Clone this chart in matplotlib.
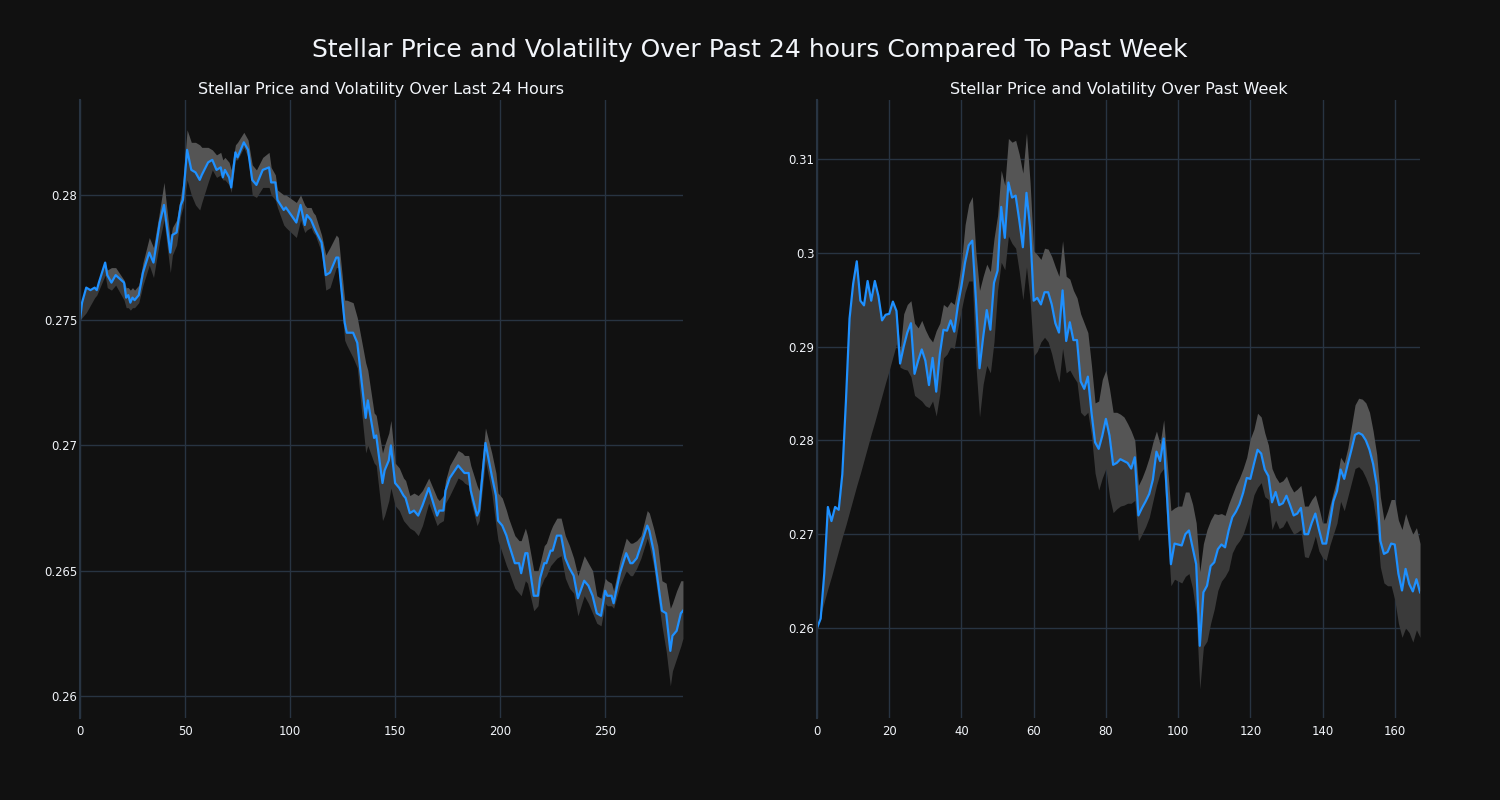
import matplotlib.pyplot as plt

# Last 24 hours (5-minute steps)
dia_x = [0, 1, 3, 5, 7, 8, 9, 12, 13, 15, 17, 21, 22, 23, 24, 25, 26, 28, 30, 33,
         35, 38, 40, 43, 44, 46, 48, 49, 51, 53, 55, 57, 58, 61, 63, 65, 67, 68, 69, 71,
         72, 74, 75, 78, 80, 82, 84, 87, 90, 91, 93, 94, 97, 98, 103, 105, 107, 108, 110, 111,
         112, 115, 117, 119, 122, 123, 126, 127, 130, 132, 136, 137, 140, 141, 144, 145, 147, 148, 150, 152,
         154, 155, 157, 159, 161, 163, 166, 170, 171, 173, 174, 176, 180, 182, 183, 185, 186, 189, 190, 193,
         196, 198, 199, 201, 203, 204, 207, 209, 210, 212, 213, 216, 218, 219, 221, 222, 224, 225, 227, 229,
         231, 233, 235, 237, 240, 242, 244, 246, 248, 250, 251, 253, 254, 257, 260, 262, 263, 265, 267, 270,
         271, 273, 275, 277, 279, 281, 282, 284, 286, 287]
dia_preco = [0.2750, 0.2757, 0.2763, 0.2762, 0.2763, 0.2762, 0.2765, 0.2773, 0.2768, 0.2765, 0.2768, 0.2765, 0.2759, 0.2760, 0.2757, 0.2759, 0.2758, 0.2760, 0.2769, 0.2777,
             0.2773, 0.2789, 0.2796, 0.2777, 0.2784, 0.2785, 0.2796, 0.2798, 0.2818, 0.2810, 0.2809, 0.2806, 0.2808, 0.2813, 0.2814, 0.2810, 0.2811, 0.2807, 0.2810, 0.2807,
             0.2803, 0.2817, 0.2815, 0.2821, 0.2818, 0.2806, 0.2804, 0.2810, 0.2811, 0.2805, 0.2805, 0.2798, 0.2794, 0.2795, 0.2789, 0.2796, 0.2788, 0.2792, 0.2790, 0.2788,
             0.2786, 0.2781, 0.2768, 0.2769, 0.2775, 0.2775, 0.2749, 0.2745, 0.2745, 0.2741, 0.2711, 0.2718, 0.2703, 0.2704, 0.2685, 0.2690, 0.2694, 0.2700, 0.2685, 0.2683,
             0.2680, 0.2679, 0.2673, 0.2674, 0.2672, 0.2676, 0.2683, 0.2672, 0.2674, 0.2674, 0.2682, 0.2687, 0.2692, 0.2690, 0.2689, 0.2689, 0.2682, 0.2672, 0.2674, 0.2701,
             0.2688, 0.2680, 0.2670, 0.2668, 0.2664, 0.2661, 0.2653, 0.2653, 0.2649, 0.2657, 0.2657, 0.2640, 0.2640, 0.2647, 0.2653, 0.2653, 0.2658, 0.2658, 0.2664, 0.2664,
             0.2655, 0.2651, 0.2648, 0.2639, 0.2646, 0.2644, 0.2640, 0.2633, 0.2632, 0.2642, 0.2640, 0.2640, 0.2637, 0.2649, 0.2657, 0.2653, 0.2653, 0.2655, 0.2660, 0.2668,
             0.2666, 0.2658, 0.2646, 0.2634, 0.2633, 0.2618, 0.2624, 0.2626, 0.2633, 0.2634]
dia_sup = [0.2750, 0.2757, 0.2763, 0.2762, 0.2763, 0.2763, 0.2765, 0.2773, 0.2770, 0.2771, 0.2771, 0.2766, 0.2763, 0.2763, 0.2762, 0.2763, 0.2762, 0.2764, 0.2773, 0.2783,
           0.2779, 0.2794, 0.2805, 0.2782, 0.2787, 0.2790, 0.2800, 0.2805, 0.2826, 0.2821, 0.2821, 0.2820, 0.2819, 0.2819, 0.2818, 0.2816, 0.2817, 0.2814, 0.2815, 0.2813,
           0.2810, 0.2820, 0.2821, 0.2825, 0.2822, 0.2812, 0.2810, 0.2815, 0.2817, 0.2811, 0.2808, 0.2802, 0.2800, 0.2800, 0.2797, 0.2800, 0.2796, 0.2795, 0.2795, 0.2793,
           0.2792, 0.2784, 0.2776, 0.2779, 0.2784, 0.2783, 0.2758, 0.2758, 0.2757, 0.2751, 0.2733, 0.2730, 0.2713, 0.2712, 0.2697, 0.2700, 0.2705, 0.2710, 0.2693, 0.2691,
           0.2687, 0.2686, 0.2680, 0.2681, 0.2680, 0.2682, 0.2687, 0.2679, 0.2678, 0.2680, 0.2686, 0.2692, 0.2698, 0.2697, 0.2696, 0.2696, 0.2692, 0.2684, 0.2682, 0.2707,
           0.2697, 0.2689, 0.2681, 0.2679, 0.2674, 0.2671, 0.2664, 0.2662, 0.2662, 0.2667, 0.2664, 0.2650, 0.2650, 0.2653, 0.2660, 0.2661, 0.2666, 0.2668, 0.2671, 0.2671,
           0.2664, 0.2660, 0.2655, 0.2648, 0.2656, 0.2653, 0.2650, 0.2640, 0.2639, 0.2647, 0.2646, 0.2645, 0.2642, 0.2654, 0.2663, 0.2661, 0.2661, 0.2662, 0.2664, 0.2674,
           0.2673, 0.2667, 0.2660, 0.2646, 0.2645, 0.2635, 0.2637, 0.2642, 0.2646, 0.2646]
dia_inf = [0.2750, 0.2751, 0.2753, 0.2756, 0.2759, 0.2760, 0.2762, 0.2768, 0.2763, 0.2762, 0.2764, 0.2758, 0.2755, 0.2755, 0.2754, 0.2755, 0.2755, 0.2757, 0.2764, 0.2772,
           0.2767, 0.2782, 0.2790, 0.2769, 0.2776, 0.2780, 0.2792, 0.2795, 0.2806, 0.2800, 0.2796, 0.2794, 0.2797, 0.2805, 0.2810, 0.2807, 0.2808, 0.2806, 0.2806, 0.2804,
           0.2801, 0.2814, 0.2814, 0.2819, 0.2815, 0.2800, 0.2799, 0.2803, 0.2803, 0.2800, 0.2798, 0.2795, 0.2788, 0.2787, 0.2783, 0.2790, 0.2785, 0.2786, 0.2787, 0.2785,
           0.2784, 0.2777, 0.2762, 0.2763, 0.2771, 0.2771, 0.2742, 0.2740, 0.2735, 0.2731, 0.2697, 0.2700, 0.2693, 0.2692, 0.2670, 0.2672, 0.2678, 0.2683, 0.2676, 0.2674,
           0.2670, 0.2669, 0.2667, 0.2666, 0.2664, 0.2668, 0.2677, 0.2668, 0.2669, 0.2670, 0.2677, 0.2680, 0.2687, 0.2686, 0.2685, 0.2684, 0.2678, 0.2668, 0.2670, 0.2694,
           0.2681, 0.2668, 0.2662, 0.2657, 0.2652, 0.2650, 0.2643, 0.2641, 0.2640, 0.2646, 0.2645, 0.2634, 0.2636, 0.2643, 0.2647, 0.2648, 0.2652, 0.2653, 0.2655, 0.2656,
           0.2647, 0.2643, 0.2641, 0.2632, 0.2640, 0.2637, 0.2633, 0.2629, 0.2628, 0.2637, 0.2636, 0.2636, 0.2635, 0.2644, 0.2650, 0.2648, 0.2648, 0.2651, 0.2655, 0.2663,
           0.2660, 0.2652, 0.2640, 0.2628, 0.2618, 0.2604, 0.2610, 0.2615, 0.2620, 0.2623]

# Past week (hourly steps, 0..167)
semana_preco = [0.2600, 0.2610, 0.2658, 0.2729, 0.2714, 0.2729, 0.2726, 0.2764, 0.2842, 0.2930,
                0.2967, 0.2991, 0.2949, 0.2944, 0.2970, 0.2949, 0.2970, 0.2954, 0.2928, 0.2934,
                0.2935, 0.2948, 0.2938, 0.2882, 0.2900, 0.2915, 0.2925, 0.2871, 0.2885, 0.2897,
                0.2885, 0.2859, 0.2888, 0.2852, 0.2892, 0.2918, 0.2917, 0.2928, 0.2916, 0.2944,
                0.2965, 0.2990, 0.3008, 0.3013, 0.2950, 0.2877, 0.2910, 0.2939, 0.2918, 0.2968,
                0.2981, 0.3049, 0.3016, 0.3075, 0.3059, 0.3061, 0.3035, 0.3006, 0.3064, 0.3027,
                0.2949, 0.2952, 0.2945, 0.2958, 0.2958, 0.2945, 0.2925, 0.2915, 0.2960, 0.2906,
                0.2926, 0.2907, 0.2907, 0.2863, 0.2855, 0.2868, 0.2830, 0.2798, 0.2791, 0.2805,
                0.2823, 0.2805, 0.2774, 0.2776, 0.2780, 0.2778, 0.2776, 0.2770, 0.2782, 0.2720,
                0.2728, 0.2735, 0.2743, 0.2758, 0.2788, 0.2778, 0.2802, 0.2735, 0.2668, 0.2690,
                0.2689, 0.2688, 0.2700, 0.2704, 0.2686, 0.2668, 0.2581, 0.2638, 0.2645, 0.2666,
                0.2670, 0.2684, 0.2689, 0.2686, 0.2704, 0.2718, 0.2724, 0.2732, 0.2744, 0.2760,
                0.2759, 0.2775, 0.2790, 0.2786, 0.2769, 0.2762, 0.2734, 0.2745, 0.2731, 0.2733,
                0.2741, 0.2731, 0.2720, 0.2722, 0.2728, 0.2700, 0.2700, 0.2712, 0.2722, 0.2705,
                0.2690, 0.2690, 0.2712, 0.2735, 0.2746, 0.2769, 0.2759, 0.2775, 0.2790, 0.2806,
                0.2808, 0.2806, 0.2800, 0.2790, 0.2775, 0.2752, 0.2693, 0.2679, 0.2681, 0.2690,
                0.2689, 0.2658, 0.2640, 0.2663, 0.2647, 0.2639, 0.2652, 0.2638]
semana_sup = [0.2600, 0.2610, 0.2658, 0.2729, 0.2714, 0.2729, 0.2726, 0.2764, 0.2842, 0.2930,
              0.2967, 0.2991, 0.2949, 0.2944, 0.2970, 0.2949, 0.2970, 0.2954, 0.2928, 0.2934,
              0.2935, 0.2948, 0.2938, 0.2895, 0.2935, 0.2945, 0.2949, 0.2925, 0.2920, 0.2928,
              0.2918, 0.2910, 0.2905, 0.2917, 0.2925, 0.2945, 0.2942, 0.2948, 0.2945, 0.2965,
              0.2990, 0.3030, 0.3052, 0.3060, 0.3000, 0.2960, 0.2975, 0.2988, 0.2980, 0.3015,
              0.3040, 0.3088, 0.3072, 0.3122, 0.3118, 0.3120, 0.3105, 0.3085, 0.3128, 0.3075,
              0.3002, 0.2998, 0.2993, 0.3005, 0.3004, 0.2996, 0.2985, 0.2975, 0.3013, 0.2975,
              0.2972, 0.2960, 0.2952, 0.2935, 0.2925, 0.2915, 0.2880, 0.2840, 0.2842, 0.2865,
              0.2875, 0.2855, 0.2830, 0.2830, 0.2828, 0.2825, 0.2818, 0.2810, 0.2800, 0.2752,
              0.2760, 0.2770, 0.2782, 0.2798, 0.2810, 0.2796, 0.2822, 0.2775, 0.2725, 0.2728,
              0.2730, 0.2730, 0.2745, 0.2745, 0.2732, 0.2712, 0.2660, 0.2690, 0.2705, 0.2715,
              0.2722, 0.2721, 0.2722, 0.2720, 0.2732, 0.2742, 0.2752, 0.2760, 0.2770, 0.2782,
              0.2802, 0.2812, 0.2829, 0.2825, 0.2808, 0.2795, 0.2770, 0.2761, 0.2755, 0.2757,
              0.2762, 0.2752, 0.2745, 0.2748, 0.2752, 0.2730, 0.2730, 0.2737, 0.2742, 0.2728,
              0.2712, 0.2712, 0.2730, 0.2745, 0.2760, 0.2782, 0.2776, 0.2792, 0.2815, 0.2838,
              0.2845, 0.2844, 0.2840, 0.2830, 0.2810, 0.2785, 0.2740, 0.2715, 0.2725, 0.2737,
              0.2737, 0.2715, 0.2705, 0.2722, 0.2710, 0.2700, 0.2707, 0.2690]
semana_inf = [0.2600, 0.2614, 0.2628, 0.2642, 0.2655, 0.2669, 0.2683, 0.2697, 0.2710, 0.2724,
              0.2738, 0.2752, 0.2765, 0.2779, 0.2793, 0.2807, 0.2820, 0.2834, 0.2848, 0.2862,
              0.2875, 0.2889, 0.2903, 0.2878, 0.2876, 0.2875, 0.2868, 0.2848, 0.2845, 0.2842,
              0.2837, 0.2835, 0.2842, 0.2826, 0.2850, 0.2888, 0.2892, 0.2900, 0.2898, 0.2920,
              0.2940, 0.2958, 0.2970, 0.2970, 0.2880, 0.2825, 0.2860, 0.2880, 0.2872, 0.2905,
              0.2960, 0.2990, 0.2982, 0.3018, 0.3010, 0.3005, 0.2980, 0.2950, 0.2985, 0.2950,
              0.2890, 0.2895, 0.2905, 0.2910, 0.2905, 0.2892, 0.2875, 0.2862, 0.2898, 0.2872,
              0.2875, 0.2868, 0.2862, 0.2830, 0.2826, 0.2830, 0.2805, 0.2765, 0.2747, 0.2760,
              0.2770, 0.2740, 0.2723, 0.2727, 0.2730, 0.2731, 0.2733, 0.2733, 0.2736, 0.2693,
              0.2700, 0.2708, 0.2718, 0.2735, 0.2752, 0.2765, 0.2770, 0.2705, 0.2645, 0.2652,
              0.2650, 0.2648, 0.2655, 0.2658, 0.2642, 0.2615, 0.2535, 0.2580, 0.2586, 0.2605,
              0.2620, 0.2640, 0.2650, 0.2655, 0.2662, 0.2680, 0.2688, 0.2693, 0.2700, 0.2712,
              0.2725, 0.2742, 0.2750, 0.2755, 0.2740, 0.2737, 0.2705, 0.2715, 0.2706, 0.2708,
              0.2715, 0.2707, 0.2700, 0.2702, 0.2705, 0.2676, 0.2675, 0.2685, 0.2698, 0.2682,
              0.2675, 0.2672, 0.2688, 0.2700, 0.2712, 0.2735, 0.2725, 0.2740, 0.2755, 0.2770,
              0.2772, 0.2768, 0.2760, 0.2750, 0.2735, 0.2710, 0.2665, 0.2648, 0.2645, 0.2645,
              0.2630, 0.2605, 0.2590, 0.2600, 0.2595, 0.2585, 0.2598, 0.2590]
semana_x = list(range(len(semana_preco)))

FUNDO = '#111111'
GRADE = '#283442'
TEXTO = '#f2f5fa'
LINHA = '#1e90ff'

fig = plt.figure(figsize=(15, 8), dpi=100, facecolor=FUNDO)
fig.suptitle('Stellar Price and Volatility Over Past 24 hours Compared To Past Week',
             color=TEXTO, fontsize=18, y=0.9375, va='center')

ax1 = fig.add_axes([0.0533, 0.1025, 0.402, 0.7725])
ax2 = fig.add_axes([0.5447, 0.1025, 0.402, 0.7725])


def desenhar(ax, x, preco, sup, inf, titulo, xlim, ylim, yticks, ylabels, xticks):
    ax.set_facecolor(FUNDO)
    # faixa de volatilidade: parte de cima mais clara, parte de baixo mais escura
    ax.fill_between(x, preco, sup, color='#555555', linewidth=0)
    ax.fill_between(x, inf, preco, color='#3a3a3a', linewidth=0)
    ax.plot(x, preco, color=LINHA, linewidth=1.6)
    ax.set_xlim(*xlim)
    ax.set_ylim(*ylim)
    ax.set_xticks(xticks)
    ax.set_yticks(yticks)
    ax.set_yticklabels(ylabels)
    ax.grid(True, color=GRADE, linewidth=1)
    ax.set_axisbelow(True)
    for lado in ['top', 'right', 'bottom']:
        ax.spines[lado].set_visible(False)
    ax.spines['left'].set_color(GRADE)
    ax.spines['left'].set_linewidth(1.5)
    ax.tick_params(length=0, colors=TEXTO, labelsize=8.4)
    ax.tick_params(axis='y', pad=2)
    ax.tick_params(axis='x', pad=5)
    ax.set_title(titulo, color=TEXTO, fontsize=11.5, pad=4)


desenhar(ax1, dia_x, dia_preco, dia_sup, dia_inf,
         'Stellar Price and Volatility Over Last 24 Hours',
         (0, 287), (0.25912, 0.28379),
         [0.26, 0.265, 0.27, 0.275, 0.28], ['0.26', '0.265', '0.27', '0.275', '0.28'],
         [0, 50, 100, 150, 200, 250])
desenhar(ax2, semana_x, semana_preco, semana_sup, semana_inf,
         'Stellar Price and Volatility Over Past Week',
         (0, 167), (0.2504, 0.3163),
         [0.26, 0.27, 0.28, 0.29, 0.30, 0.31], ['0.26', '0.27', '0.28', '0.29', '0.3', '0.31'],
         [0, 20, 40, 60, 80, 100, 120, 140, 160])

fig.savefig('out.png', dpi=100, facecolor=FUNDO)
